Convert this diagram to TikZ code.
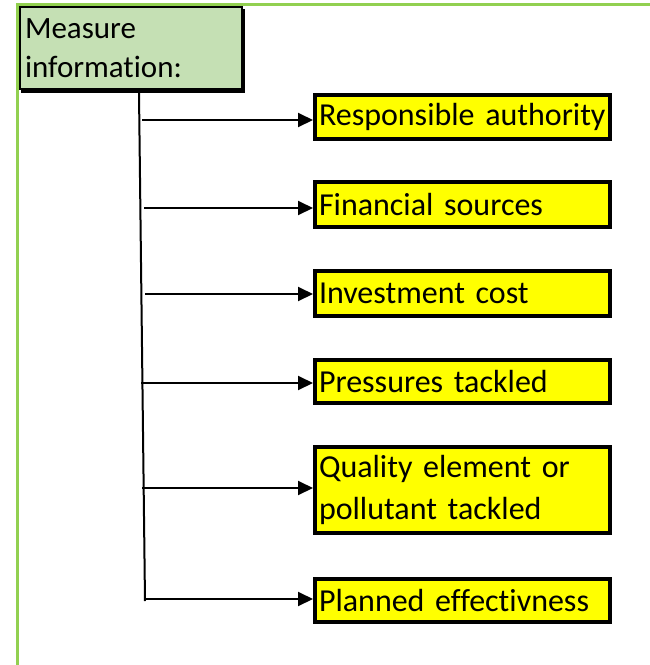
\documentclass[tikz,border=0pt]{standalone}
\usepackage{fontspec}
\setmainfont{Carlito}[Ligatures={NoCommon}, WordSpace={0.6}]
\usetikzlibrary{arrows.meta}
\definecolor{framegreen}{RGB}{146,208,80}
\definecolor{boxgreen}{RGB}{197,224,180}
\definecolor{boxyellow}{RGB}{255,255,0}
\tikzset{
  ybox/.style={draw=black, line width=4pt, fill=boxyellow, anchor=north west,
    minimum width=295pt, text width=295pt, align=left, inner sep=0pt,
    font=\fontsize{32}{42}\selectfont},
  arr/.style={line width=2pt, -{Triangle[length=15pt,width=14pt]}},
}
\begin{document}
\begin{tikzpicture}[x=1pt,y=-1pt]
\useasboundingbox (0,0) rectangle (650,665);
% outer green frame
\draw[framegreen, line width=2.2pt] (17.5,665) -- (17.5,4.5) -- (650,4.5);
% title box with shadow
\fill[black] (21,9) rectangle (245,93);
\node[draw=black, line width=2pt, fill=boxgreen, anchor=north west,
  minimum width=222pt, minimum height=82pt, text width=222pt, align=left,
  inner sep=0pt, font=\fontsize{31}{39}\selectfont] (title) at (19,6)
  {\hspace*{5pt}Measure\\\hspace*{5pt}information:};
% yellow boxes (path coordinates)
\node[ybox, minimum height=44pt] (b1) at (313,93) {\hspace*{4pt}Responsible authority};
\node[ybox, minimum height=45pt] (b2) at (313,180) {\hspace*{4pt}Financial sources};
\node[ybox, minimum height=45pt] (b3) at (313,269) {\hspace*{4pt}Investment cost};
\node[ybox, minimum height=43pt] (b4) at (313,358) {\hspace*{4pt}Pressures tackled};
\node[ybox, minimum height=86pt] (b5) at (313,445) {\hspace*{4pt}Quality element or\\\hspace*{4pt}pollutant tackled};
\node[ybox, minimum height=43pt] (b6) at (313,577) {\hspace*{4pt}Planned effectivness};
% trunk
\coordinate (top) at (139,93);
\coordinate (bot) at (145,601);
\draw[line width=2pt] (top) -- (bot);
\coordinate (t1) at (142,120);
\coordinate (t2) at (144,208);
\coordinate (t3) at (145,294);
\coordinate (t4) at (141,383);
\coordinate (t5) at (142,488);
\coordinate (t6) at (144,599);
\draw[arr] (t1) -- (t1 -| b1.west);
\draw[arr] (t2) -- (t2 -| b2.west);
\draw[arr] (t3) -- (t3 -| b3.west);
\draw[arr] (t4) -- (t4 -| b4.west);
\draw[arr] (t5) -- (t5 -| b5.west);
\draw[arr] (t6) -- (t6 -| b6.west);
\end{tikzpicture}
\end{document}
